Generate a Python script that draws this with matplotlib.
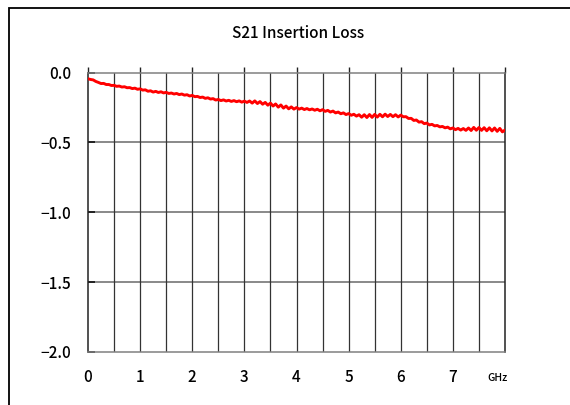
import matplotlib
matplotlib.use("Agg")
import matplotlib.pyplot as plt
from matplotlib.patches import Rectangle
import numpy as np

plt.rcParams['font.family'] = ['Noto Sans CJK JP', 'DejaVu Sans']
plt.rcParams['font.weight'] = 'medium'

# S21 trace, every 0.05 GHz from 0 to 8 GHz (dB)
f_start, f_stop = 0.0, 8.0
s21 = [
    -0.045, -0.050, -0.053, -0.064, -0.071, -0.079, -0.078, -0.086, -0.086, -0.093,
    -0.092, -0.099, -0.097, -0.104, -0.102, -0.109, -0.108, -0.115, -0.112, -0.120,
    -0.117, -0.126, -0.124, -0.134, -0.131, -0.140, -0.135, -0.143, -0.138, -0.146,
    -0.142, -0.150, -0.147, -0.154, -0.150, -0.158, -0.154, -0.162, -0.159, -0.168,
    -0.164, -0.173, -0.171, -0.179, -0.176, -0.185, -0.181, -0.190, -0.187, -0.197,
    -0.193, -0.201, -0.196, -0.204, -0.199, -0.207, -0.201, -0.209, -0.203, -0.212,
    -0.205, -0.214, -0.204, -0.219, -0.203, -0.222, -0.208, -0.227, -0.214, -0.234,
    -0.219, -0.240, -0.225, -0.248, -0.232, -0.255, -0.240, -0.260, -0.246, -0.262,
    -0.251, -0.262, -0.255, -0.265, -0.258, -0.267, -0.261, -0.270, -0.263, -0.274,
    -0.266, -0.278, -0.271, -0.283, -0.276, -0.289, -0.283, -0.295, -0.289, -0.301,
    -0.294, -0.306, -0.299, -0.312, -0.302, -0.320, -0.302, -0.322, -0.301, -0.321,
    -0.300, -0.319, -0.299, -0.317, -0.298, -0.315, -0.300, -0.316, -0.302, -0.318,
    -0.305, -0.317, -0.316, -0.329, -0.328, -0.343, -0.340, -0.355, -0.352, -0.366,
    -0.362, -0.375, -0.371, -0.382, -0.379, -0.389, -0.386, -0.396, -0.391, -0.403,
    -0.397, -0.409, -0.400, -0.412, -0.401, -0.414, -0.397, -0.415, -0.393, -0.413,
    -0.394, -0.414, -0.395, -0.417, -0.396, -0.418, -0.397, -0.421, -0.400, -0.425,
    -0.412,
]
freq = np.linspace(f_start, f_stop, len(s21))

x_ticks = [0, 1, 2, 3, 4, 5, 6, 7]
x_labels = ['0', '1', '2', '3', '4', '5', '6', '7']
y_ticks = [0.0, -0.5, -1.0, -1.5, -2.0]
y_labels = ['0.0', '\u22120.5', '\u22121.0', '\u22121.5', '\u22122.0']

W, H = 570, 405
fig = plt.figure(figsize=(W / 100, H / 100), dpi=100)
ax = fig.add_axes([88 / W, 1 - 352 / H, (505 - 88) / W, (352 - 72.5) / H])

# outer frame, runs off the right and bottom edges
fig.patches.append(Rectangle((9 / W, -0.1), 1.2, 1 - 8 / H + 0.1,
                             transform=fig.transFigure, fill=False,
                             edgecolor='black', linewidth=1.3))

ax.plot(freq, s21, color='#ff0000', linewidth=2.1, zorder=5)

ax.set_xlim(0, 8)
ax.set_ylim(-2.0, 0.0)

# vertical grid every 0.5 GHz
ax.set_xticks(x_ticks + [8])
ax.set_xticklabels(x_labels + [''], fontsize=11)
ax.set_xticks(np.arange(0.5, 8, 1.0), minor=True)
ax.tick_params(axis='x', which='major', top=True, direction='out',
               length=4.5, width=1, color='#222222', pad=7.5)
ax.tick_params(axis='x', which='minor', bottom=False, top=False)
for t in ax.xaxis.get_major_ticks():
    t.tick1line.set_visible(False)
for v in np.arange(0.5, 8, 0.5):
    ax.axvline(v, color='#333333', linewidth=0.9, zorder=2)

ax.set_yticks(y_ticks)
ax.set_yticklabels(y_labels, fontsize=11)
ax.tick_params(axis='y', direction='in', length=5, width=1.4,
               color='#222222', pad=12)
for h in [-0.5, -1.0, -1.5]:
    ax.axhline(h, color='#808080', linewidth=1.3, zorder=1)

ax.spines['left'].set_color('#222222')
ax.spines['right'].set_color('#222222')
ax.spines['top'].set_color('#808080')
ax.spines['bottom'].set_color('#808080')
for s in ax.spines.values():
    s.set_linewidth(1.1)

ax.text(7.86, -2.185, 'GHz', fontsize=7.5, ha='center', va='center',
        clip_on=False)

fig.text(298 / W, 1 - 33 / H, 'S21 Insertion Loss', fontsize=11,
         ha='center', va='center')

fig.savefig('out.png', dpi=100)
